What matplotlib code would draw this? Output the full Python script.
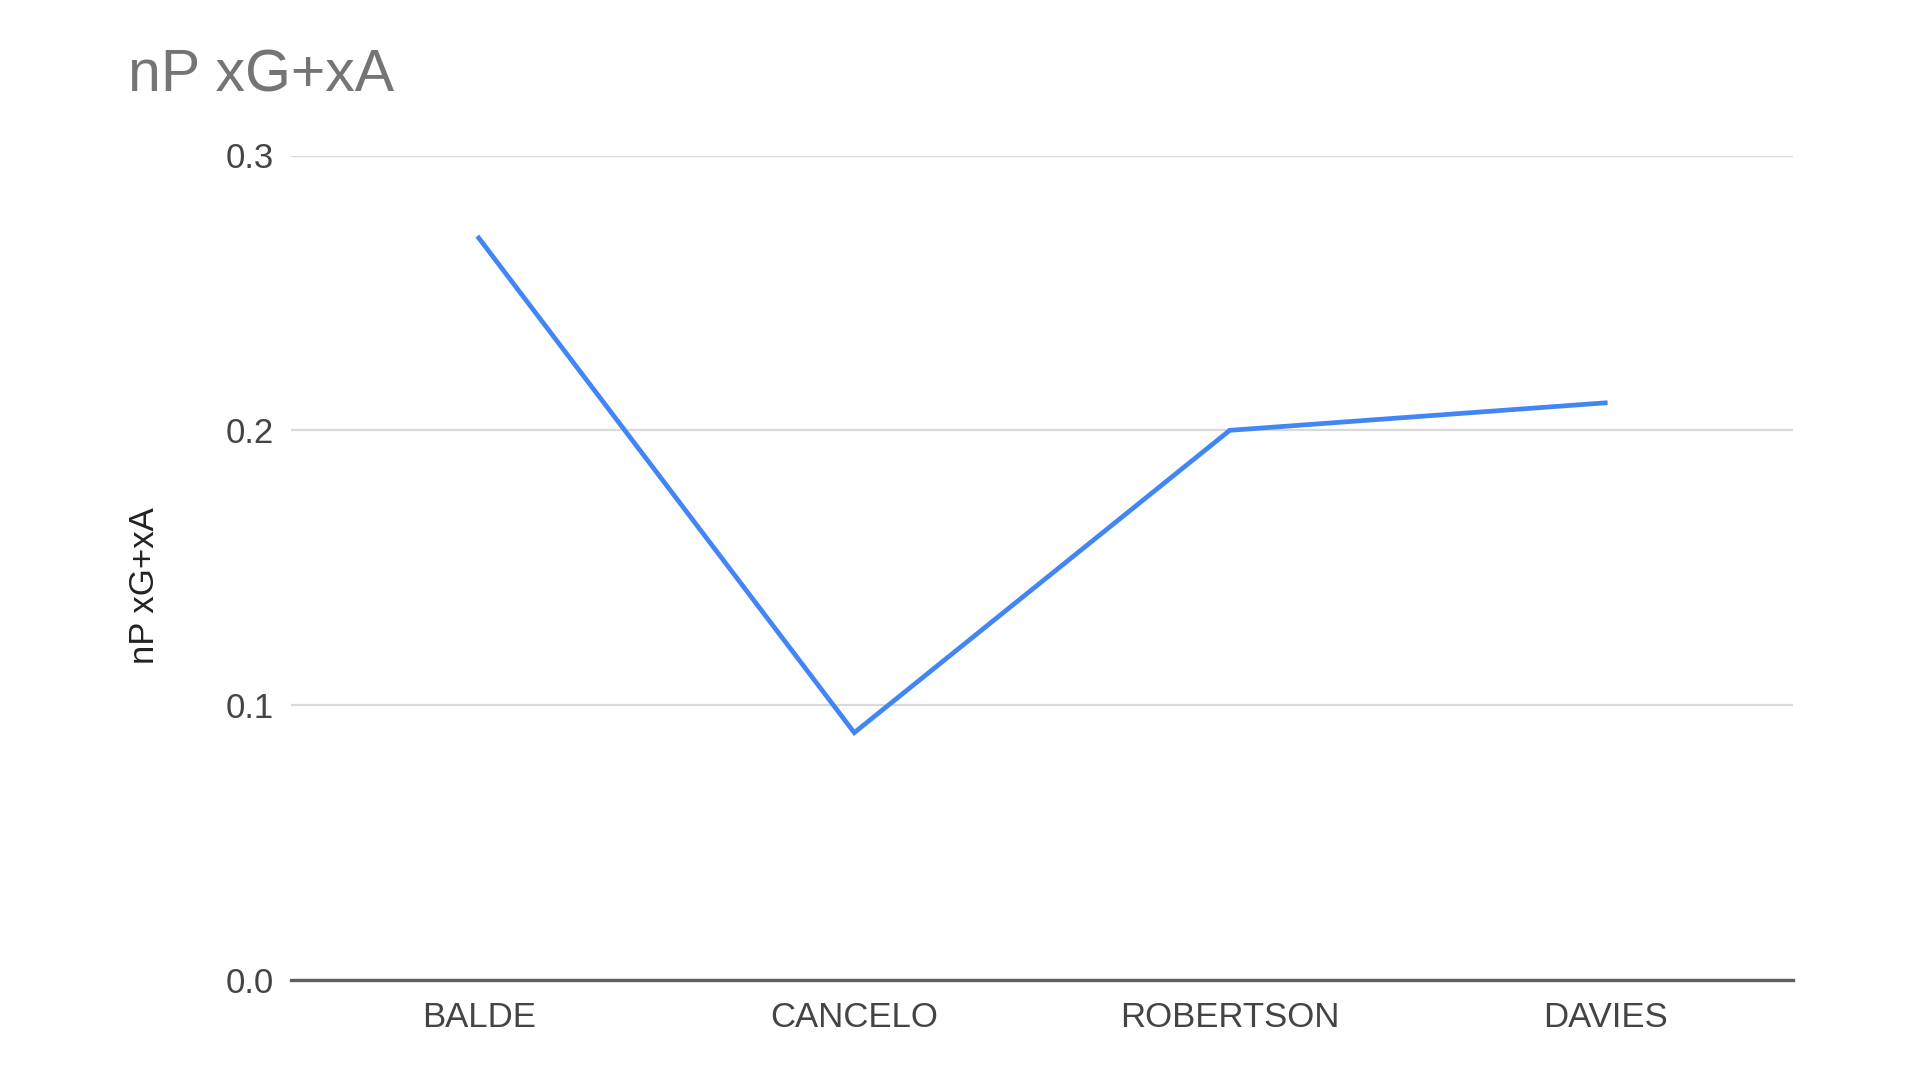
import matplotlib
matplotlib.use("Agg")
import matplotlib.pyplot as plt

players = ["BALDE", "CANCELO", "ROBERTSON", "DAVIES"]
np_xg_xa = [0.27, 0.09, 0.20, 0.21]
yticks = [0.0, 0.1, 0.2, 0.3]
ytick_labels = ["0.0", "0.1", "0.2", "0.3"]

plt.rcParams['font.family'] = ['Liberation Sans', 'DejaVu Sans']

fig = plt.figure(figsize=(19.2, 10.8), dpi=100)
ax = fig.add_axes([291/1920, 1-980/1080, (1793-291)/1920, (980-155.5)/1080])

x = list(range(len(players)))
ax.plot(x, np_xg_xa, color="#4285F4", linewidth=3.4, solid_joinstyle="miter", zorder=3)

ax.set_xlim(-0.5, len(players) - 0.5)
ax.set_ylim(0, 0.3)
ax.set_yticks(yticks)
ax.set_yticklabels(ytick_labels)
ax.set_xticks(x)
ax.set_xticklabels(players)
ax.grid(axis="y", color="#d9d9d9", linewidth=1.6, zorder=0)
ax.set_axisbelow(True)
for s in ["top", "right", "left"]:
    ax.spines[s].set_visible(False)
ax.spines["bottom"].set_color("#5f5f5f")
ax.spines["bottom"].set_linewidth(2.4)
ax.spines["bottom"].set_zorder(4)
ax.tick_params(axis="both", length=0, labelsize=25, labelcolor="#444444")
ax.tick_params(axis="y", pad=12)
ax.tick_params(axis="x", pad=15)

ax.set_ylabel("nP xG+xA", fontsize=25, color="#222222")
ax.yaxis.set_label_coords((144-291)/1502, (980-586)/824.5)
ax.yaxis.label.set_va("center")
fig.text(128/1920, 1-91/1080, "nP xG+xA", fontsize=42.5, color="#757575", ha="left", va="baseline")

fig.savefig("out.png", dpi=100, facecolor="white")
